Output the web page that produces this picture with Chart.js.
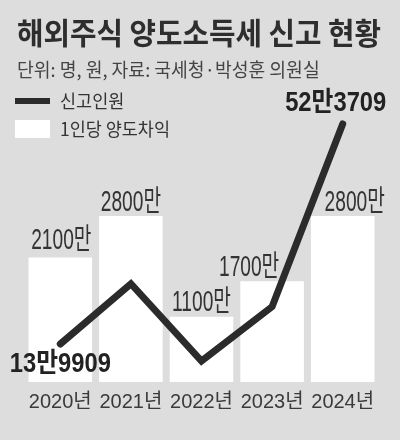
<!DOCTYPE html>
<html><head><meta charset="utf-8">
<script src="https://cdn.jsdelivr.net/npm/chart.js@4/dist/chart.umd.min.js"></script>
<style>
html,body{margin:0;padding:0;background:#dddddd;}
#wrap{position:relative;width:400px;height:440px;overflow:hidden;background:#dddddd;}
canvas{position:absolute;left:0;top:0;}
.t{position:absolute;white-space:nowrap;line-height:1;transform-origin:0 50%;font-family:'Noto Sans CJK KR',sans-serif;color:#333;}
.sw{position:absolute;}
</style></head>
<body><div id="wrap">
<canvas id="c" width="400" height="440"></canvas>
<div class="t" style="left:17px;top:16px;font-size:30px;font-weight:700;color:#2e2e2e;transform:scaleX(0.96)">해외주식 양도소득세 신고 현황</div>
<div class="t" style="left:17px;top:59px;font-size:19px;color:#444;transform:scaleX(0.96)">단위: 명, 원, 자료: 국세청·박성훈 의원실</div>
<div class="sw" style="left:15px;top:98px;width:35px;height:6px;background:#2b2b2b"></div>
<div class="t" style="left:60px;top:91px;font-size:18px;color:#333;transform:scaleX(0.97)">신고인원</div>
<div class="sw" style="left:15px;top:120px;width:35px;height:18px;background:#ffffff"></div>
<div class="t" style="left:60px;top:119px;font-size:18px;color:#333;transform:scaleX(0.97)">1인당 양도차익</div>
</div>
<script>
const years = ['2020년','2021년','2022년','2023년','2024년'];
const gainValues = [2100, 2800, 1100, 1700, 2800];
const gainLabels = ['2100만','2800만','1100만','1700만','2800만'];
const filerValues = [139909, 245000, 110000, 205000, 523709];
const filerLabels = ['13만9909','','','','52만3709'];

const labelPlugin = {
  id: 'valueLabels',
  afterDatasetsDraw(chart) {
    const ctx = chart.ctx;
    const barMeta = chart.getDatasetMeta(0);
    const barShift = [1, 0, 0, -23, 12];
    const barLift = [8, 5, 6, 5, 5];
    ctx.save();
    ctx.fillStyle = '#333';
    ctx.textAlign = 'center';
    ctx.textBaseline = 'alphabetic';
    ctx.font = '29px "Liberation Sans", "Noto Sans CJK KR", sans-serif';
    barMeta.data.forEach((el, i) => {
      ctx.save();
      ctx.translate(el.x + barShift[i], el.y - barLift[i]);
      ctx.scale(0.66, 1);
      ctx.fillText(gainLabels[i], 0, 0);
      ctx.restore();
    });
    const lineMeta = chart.getDatasetMeta(1);
    ctx.fillStyle = '#222';
    ctx.font = 'bold 27px "Liberation Sans", "Noto Sans CJK KR", sans-serif';
    ctx.textBaseline = 'middle';
    lineMeta.data.forEach((el, i) => {
      if (!filerLabels[i]) return;
      const dy = i === 0 ? 21 : -20;
      const dx = i === 0 ? 0 : -7;
      ctx.save();
      ctx.translate(el.x + dx, el.y + dy);
      ctx.scale(0.88, 1);
      ctx.fillText(filerLabels[i], 0, 0);
      ctx.restore();
    });
    ctx.restore();
  }
};

new Chart(document.getElementById('c'), {
  data: {
    labels: years,
    datasets: [
      { type: 'bar', label: '1인당 양도차익', data: gainValues, backgroundColor: '#ffffff', borderWidth: 0,
        barPercentage: 0.9, categoryPercentage: 1, yAxisID: 'y', order: 2 },
      { type: 'line', label: '신고인원', data: filerValues, borderColor: '#2b2b2b', borderWidth: 7,
        pointRadius: 0, tension: 0, borderCapStyle: 'round', borderJoinStyle: 'miter', yAxisID: 'y1', order: 1 }
    ]
  },
  options: {
    responsive: false,
    animation: false,
    layout: { padding: { left: 25, right: 22, top: 0, bottom: 0 } },
    plugins: { legend: { display: false }, tooltip: { enabled: false }, title: { display: false } },
    scales: {
      x: {
        grid: { display: false, drawTicks: false }, border: { display: false },
        ticks: { color: '#3a3a3a', padding: 8, maxRotation: 0, minRotation: 0, autoSkip: false,
          font: { family: '"Liberation Sans", "Noto Sans CJK KR", sans-serif', size: 20 } },
        afterFit(scale) { scale.height = 58; }
      },
      y: { display: false, min: 0, max: 6440 },
      y1: { display: false, min: 73600, max: 740000 }
    }
  },
  plugins: [labelPlugin]
});
</script>
</body></html>
